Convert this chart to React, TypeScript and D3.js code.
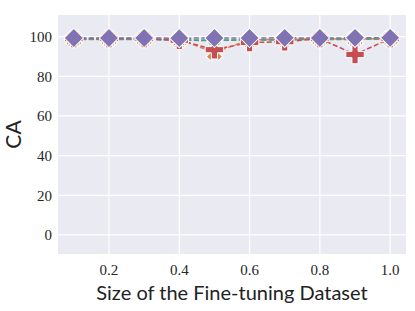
import React from 'react'
import * as d3 from 'd3'

// fraction of the fine-tuning data used
const sizes = [0.1, 0.2, 0.3, 0.4, 0.5, 0.6, 0.7, 0.8, 0.9, 1.0]

// CA per series
const blueVals = [98.6, 98.7, 98.7, 98.2, 98.0, 98.4, 98.5, 98.8, 98.8, 98.9]
const orangeVals = [98.8, 98.9, 98.9, 98.5, 92.0, 98.4, 98.6, 98.9, 98.8, 99.0]
const greenVals = [98.5, 98.6, 98.6, 98.3, 98.2, 98.3, 98.4, 98.6, 98.6, 98.7]
const redVals = [99.0, 99.0, 99.0, 98.2, 93.4, 97.0, 97.4, 99.0, 91.0, 99.0]
const purpleVals = [99.3, 99.3, 99.3, 99.2, 99.3, 99.3, 99.4, 99.3, 99.4, 99.4]

const xTicks = [0.2, 0.4, 0.6, 0.8, 1.0]
const yTicks = [0, 20, 40, 60, 80, 100]

const series = [
  { name: 'blue', values: blueVals, color: '#4C72B0', marker: 'circle' },
  { name: 'orange', values: orangeVals, color: '#DD8452', marker: 'x' },
  { name: 'green', values: greenVals, color: '#55A868', marker: 'square' },
  { name: 'red', values: redVals, color: '#C44E52', marker: 'plus' },
  { name: 'purple', values: purpleVals, color: '#8172B3', marker: 'diamond' },
]

const W = 415
const H = 311
const left = 58
const right = 406
const top = 15
const bottom = 254

function markerPath(kind: string) {
  if (kind === 'circle') return d3.symbol(d3.symbolCircle, 160)()
  if (kind === 'square') return d3.symbol(d3.symbolSquare, 120)()
  if (kind === 'plus') return d3.symbol(d3.symbolCross, 190)()
  if (kind === 'x') return d3.symbol(d3.symbolCross, 165)()
  return d3.symbol(d3.symbolSquare, 185)()
}

export default function App() {
  const x = d3.scaleLinear().domain([0.055, 1.045]).range([left, right])
  const y = d3.scaleLinear().domain([-9.6, 110.9]).range([bottom, top])
  const line = d3.line<number>()
    .x((d, i) => x(sizes[i]))
    .y(d => y(d))

  return (
    <div style={{ position: 'absolute', left: 0, top: 0 }}>
      <svg width={W} height={H} style={{ display: 'block', background: '#fff' }}>
        <rect x={left} y={top} width={right - left} height={bottom - top} fill="#EAEAF2" />
        {xTicks.map(t => (
          <line key={'gx' + t} x1={x(t)} x2={x(t)} y1={top} y2={bottom} stroke="#fff" strokeWidth={1.2} />
        ))}
        {yTicks.map(t => (
          <line key={'gy' + t} x1={left} x2={right} y1={y(t)} y2={y(t)} stroke="#fff" strokeWidth={1.2} />
        ))}
        {series.map(s => (
          <g key={s.name}>
            <path d={line(s.values) || ''} fill="none" stroke={s.color} strokeWidth={1.5} strokeDasharray="5,2.5" />
            {s.values.map((v, i) => {
              const rot = s.marker === 'x' || s.marker === 'diamond' ? 45 : 0
              return (
                <path key={i} d={markerPath(s.marker) || ''}
                  transform={`translate(${x(sizes[i])},${y(v)}) rotate(${rot})`}
                  fill={s.color} stroke="#fff" strokeWidth={1} />
              )
            })}
          </g>
        ))}
        <g fontFamily="'Liberation Serif', serif" fontSize={15} fill="#262626">
          {xTicks.map(t => (
            <text key={'tx' + t} x={x(t)} y={bottom + 21} textAnchor="middle">{t.toFixed(1)}</text>
          ))}
          {yTicks.map(t => (
            <text key={'ty' + t} x={left - 6} y={y(t)} dy="0.35em" textAnchor="end">{t}</text>
          ))}
        </g>
        <text x={232} y={300} textAnchor="middle" fontFamily="Lato, sans-serif" fontSize={20} fill="#222">
          Size of the Fine-tuning Dataset
        </text>
        <text transform={`translate(21,${(top + bottom) / 2}) rotate(-90)`} textAnchor="middle"
          fontFamily="Lato, sans-serif" fontSize={21} fill="#222">CA</text>
      </svg>
    </div>
  )
}
